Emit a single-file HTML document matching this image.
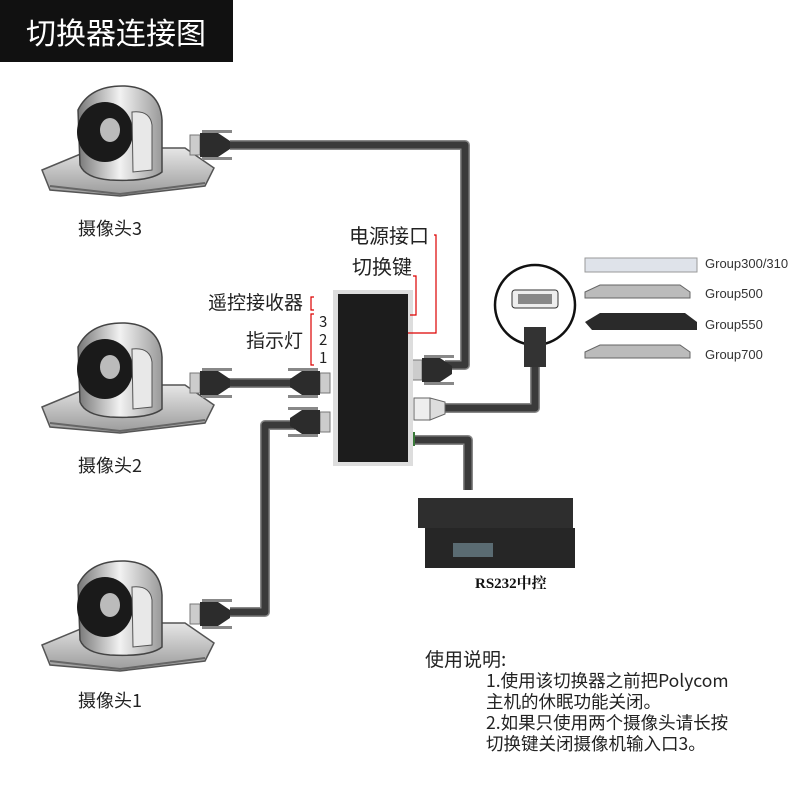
<!DOCTYPE html>
<html><head><meta charset="utf-8"><style>
body{margin:0;background:#fff;width:800px;height:800px;overflow:hidden;font-family:"Liberation Sans","Noto Sans CJK SC",sans-serif}
svg{position:absolute;left:0;top:0}
</style></head><body>
<svg width="800" height="800" viewBox="0 0 800 800" xmlns="http://www.w3.org/2000/svg">
<defs>
<linearGradient id="base" x1="0" y1="0" x2="0" y2="1"><stop offset="0" stop-color="#e6e6e6"/><stop offset="1" stop-color="#9a9a9a"/></linearGradient>
<linearGradient id="body" x1="0" y1="0" x2="1" y2="0"><stop offset="0" stop-color="#777"/><stop offset=".5" stop-color="#f2f2f2"/><stop offset="1" stop-color="#999"/></linearGradient>
<g id="cam">
<path d="M42 170 L95 148 L185 148 L214 168 L205 186 L120 196 L50 190 Z" fill="url(#base)" stroke="#555" stroke-width="1.5"/>
<path d="M50 186 L120 194 L205 183" fill="none" stroke="#666" stroke-width="2"/>
<path d="M78 110 Q90 85 125 86 Q160 88 162 120 L162 172 Q150 182 110 180 Q85 178 80 165 Z" fill="url(#body)" stroke="#444" stroke-width="1.5"/>
<ellipse cx="105" cy="132" rx="28" ry="30" fill="#1a1a1a"/>
<ellipse cx="110" cy="130" rx="10" ry="12" fill="#bbb"/>
<path d="M132 112 Q150 110 152 125 L152 170 L133 172 Z" fill="#e8e8e8" stroke="#555"/>
</g>
<g id="dvi">
<rect x="0" y="-10" width="10" height="20" fill="#ccc" stroke="#777"/>
<path d="M10 -12 L28 -12 L40 -4 L40 4 L28 12 L10 12 Z" fill="#2c2c2c"/>
<rect x="12" y="-15" width="30" height="3" fill="#888"/>
<rect x="12" y="12" width="30" height="3" fill="#888"/>
</g>
</defs>
<rect x="0" y="0" width="233" height="62" fill="#111"/>
<text x="26" y="44" fill="#fff" font-size="30" font-family="Noto Sans CJK SC,sans-serif">切换器连接图</text>

<g fill="none" stroke-linejoin="round">
<g stroke="#888" stroke-width="10">
<path d="M230 145 L465 145 L465 365 L445 365"/>
<path d="M225 383 L295 383"/>
<path d="M230 612 L265 612 L265 425 L295 425"/>
<path d="M440 408 L535 408 L535 365"/>
<path d="M410 440 L468 440 L468 490"/>
</g>
<g stroke="#3a3a3a" stroke-width="7">
<path d="M230 145 L465 145 L465 365 L445 365"/>
<path d="M225 383 L295 383"/>
<path d="M230 612 L265 612 L265 425 L295 425"/>
<path d="M440 408 L535 408 L535 365"/>
<path d="M410 440 L468 440 L468 490"/>
</g>
</g>
<use href="#cam"/>
<use href="#cam" y="237"/>
<use href="#cam" y="475"/>
<g transform="translate(190,145)"><use href="#dvi"/></g>
<g transform="translate(190,383)"><use href="#dvi"/></g>
<g transform="translate(330,383) scale(-1,1)"><use href="#dvi"/></g>
<g transform="translate(330,422) scale(-1,1)"><use href="#dvi"/></g>
<g transform="translate(190,614)"><use href="#dvi"/></g>
<g transform="translate(412,370)"><use href="#dvi"/></g>
<rect x="414" y="398" width="16" height="22" fill="#eee" stroke="#666"/>
<path d="M430 398 L445 402 L445 414 L430 420Z" fill="#ddd" stroke="#666"/>
<rect x="407" y="432" width="8" height="14" fill="#3a7a3a"/>

<rect x="333" y="290" width="80" height="176" fill="#ddd"/>
<rect x="338" y="294" width="70" height="168" fill="#1c1c1c"/>

<g font-family="Noto Sans CJK SC,sans-serif" fill="#222" font-size="18">
<text x="78" y="235">摄像头3</text>
<text x="78" y="472">摄像头2</text>
<text x="78" y="707">摄像头1</text>
</g>

<g font-family="Noto Sans CJK SC,sans-serif" fill="#222">
<text x="349" y="243" font-size="20">电源接口</text>
<text x="352" y="274" font-size="20">切换键</text>
<text x="208" y="309" font-size="19">遥控接收器</text>
<text x="246" y="347" font-size="19">指示灯</text>
<text x="319" y="327" font-size="15">3</text>
<text x="319" y="345" font-size="15">2</text>
<text x="319" y="363" font-size="15">1</text>
</g>
<g fill="none" stroke="#d00" stroke-width="1.2">
<path d="M434 235 L436 235 L436 333 L408 333"/>
<path d="M413 276 L416 276 L416 315 L410 315"/>
<path d="M314 297 L311 297 L311 310 L314 310"/>
<path d="M314 314 L311 314 L311 365 L314 365"/>
</g>

<circle cx="535" cy="305" r="40" fill="#fff" stroke="#111" stroke-width="2.5"/>
<rect x="512" y="290" width="46" height="18" rx="3" fill="#eee" stroke="#333"/>
<rect x="518" y="294" width="34" height="10" fill="#888"/>
<rect x="524" y="327" width="22" height="40" fill="#333"/>
<rect x="585" y="258" width="112" height="14" fill="#dfe3ea" stroke="#999"/>
<path d="M585 292 L600 285 L680 285 L690 292 L690 298 L585 298Z" fill="#bbb" stroke="#666"/>
<path d="M585 322 L600 313 L685 313 L697 322 L697 330 L592 330Z" fill="#2a2a2a"/>
<path d="M585 352 L600 345 L680 345 L690 352 L690 358 L585 358Z" fill="#bbb" stroke="#666"/>
<g font-size="13" fill="#333">
<text x="705" y="268">Group300/310</text>
<text x="705" y="298">Group500</text>
<text x="705" y="329">Group550</text>
<text x="705" y="359">Group700</text>
</g>

<rect x="418" y="498" width="155" height="30" fill="#2e2e2e"/>
<rect x="425" y="528" width="150" height="40" fill="#262626"/>
<rect x="453" y="543" width="40" height="14" fill="#5a6b72"/>
<text x="475" y="588" font-size="15" font-weight="bold" font-family="Liberation Serif,Noto Serif CJK SC,serif" fill="#111">RS232中控</text>

<g font-family="Noto Sans CJK SC,sans-serif" fill="#222" font-size="17.5">
<text x="425" y="666" font-size="19">使用说明:</text>
<text x="486" y="687">1.使用该切换器之前把Polycom</text>
<text x="486" y="708">主机的休眠功能关闭。</text>
<text x="486" y="729">2.如果只使用两个摄像头请长按</text>
<text x="486" y="750">切换键关闭摄像机输入口3。</text>
</g>
</svg>
</body></html>
